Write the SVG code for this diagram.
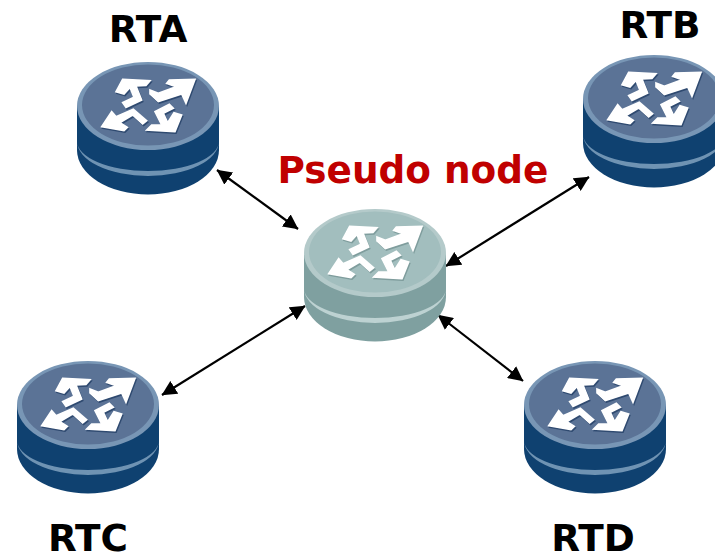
<svg xmlns="http://www.w3.org/2000/svg" width="715" height="555" viewBox="0 0 715 555">
<style>
.lbl{font-family:"DejaVu Sans",sans-serif;font-weight:700;font-size:37.4px;fill:#000;text-anchor:middle}
.ps{fill:#c00000}
.link{stroke:#000;stroke-width:2.2;fill:none;marker-start:url(#ah);marker-end:url(#ah)}
.blue{--body:#0f4170;--band:#6f93b3;--rim:#7896b5;--face:#5b7396;--sh:#2f4a70}
.pale{--body:#7fa0a0;--band:#bdd2d2;--rim:#b4caca;--face:#a2bebe;--sh:#7f9d9d}
.b{fill:var(--body)}.bd{fill:var(--band)}.r{fill:var(--rim)}.f{fill:var(--face)}
.w{fill:#fff;stroke:#fff;stroke-width:5;stroke-linejoin:miter}.s{fill:var(--sh);stroke:var(--sh);stroke-width:5}
</style>
<defs>
<marker id="ah" viewBox="0 0 15 15" refX="14.5" refY="7.5" markerWidth="15" markerHeight="15" markerUnits="userSpaceOnUse" orient="auto-start-reverse"><path d="M0 0L15 7.5L0 15Z" fill="#000"/></marker>
<g id="glyph">
<polygon points="150,60 175,70 228,50 200,40 208,30 285,28 258,100 245,72 175,95 150,72"/>
<polygon points="68,28 150,32 138,46 108,48 125,90 78,112 68,98 102,82 90,52 72,72 48,65"/>
<polygon points="5,170 35,125 48,140 100,118 140,152 128,162 98,135 60,158 82,172 72,182"/>
<polygon points="225,185 140,180 155,165 185,165 165,125 208,103 220,115 190,130 203,158 222,128 245,135"/>
</g>
<g id="router">
<path class="b" d="M-71 0V44A71 44.5 0 0 0 71 44V0Z"/>
<path class="bd" d="M-71 35A71 35 0 0 0 71 35A71 30 0 0 1 -71 35Z"/>
<ellipse class="r" rx="71" ry="44"/>
<ellipse class="f" cx="0" cy="-1" rx="66" ry="40.5"/>
<use class="s" href="#glyph" transform="translate(-47 -34.5) scale(.3333)"/>
<use class="w" href="#glyph" transform="translate(-48 -36) scale(.3333)"/>
</g>
</defs>
<g id="connectors">
<line class="link" x1="217" y1="170" x2="298" y2="229"/>
<line class="link" x1="446" y1="266" x2="589" y2="177"/>
<line class="link" x1="162" y1="395" x2="305" y2="306"/>
<line class="link" x1="438" y1="315" x2="523" y2="381"/>
</g>
<g id="RTA" class="blue"><use href="#router" x="148" y="106"/><text class="lbl" x="148" y="42">RTA</text></g>
<g id="RTB" class="blue"><use href="#router" x="654" y="99"/><text class="lbl" x="660" y="38">RTB</text></g>
<g id="Pseudo" class="pale"><use href="#router" x="375" y="253"/><text class="lbl ps" x="413" y="183">Pseudo node</text></g>
<g id="RTC" class="blue"><use href="#router" x="88" y="405"/><text class="lbl" x="88" y="551">RTC</text></g>
<g id="RTD" class="blue"><use href="#router" x="595" y="405"/><text class="lbl" x="593" y="551">RTD</text></g>
</svg>
